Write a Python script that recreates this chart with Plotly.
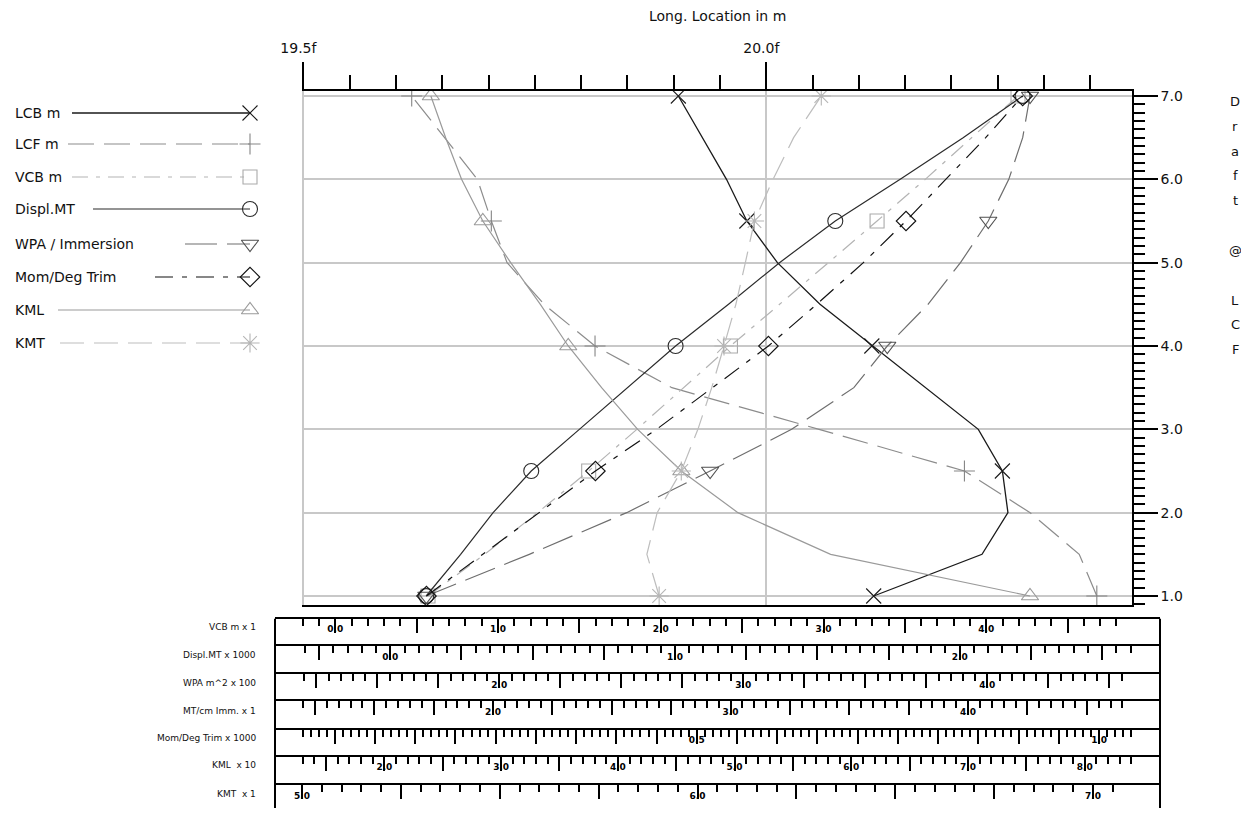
import numpy as np
import plotly.graph_objects as go

# screen is 1249x816; the page body adds an 8px margin on every side,
# so the figure is sized to fit inside it without any scrolling
SCREEN_W, SCREEN_H = 1249, 816
OFF = 8
W, H = SCREEN_W - 2 * OFF, SCREEN_H - 2 * OFF

# ---------------- data ----------------
draft = [1.0, 1.5, 2.0, 2.5, 3.0, 3.5, 4.0, 4.5, 5.0, 5.5, 6.0, 6.5, 7.0]
lcb_m = [20.116, 20.233, 20.261, 20.255, 20.229, 20.172, 20.114, 20.058, 20.012, 19.979, 19.957, 19.931, 19.905]
lcf_m = [20.357, 20.338, 20.285, 20.214, 20.057, 19.898, 19.815, 19.760, 19.720, 19.703, 19.688, 19.652, 19.617]
vcb_m = [0.570, 0.918, 1.243, 1.557, 1.853, 2.143, 2.428, 2.730, 3.032, 3.329, 3.625, 3.910, 4.195]
displ_kt = [0.126, 0.247, 0.361, 0.495, 0.664, 0.833, 1.002, 1.188, 1.367, 1.563, 1.791, 2.012, 2.221]
wpa_100m2 = [1.701, 2.123, 2.522, 2.864, 3.198, 3.453, 3.590, 3.757, 3.890, 4.004, 4.088, 4.145, 4.175]
mom_trim_k = [0.164, 0.234, 0.304, 0.374, 0.450, 0.520, 0.589, 0.649, 0.707, 0.760, 0.810, 0.859, 0.905]
kml_10m = [7.531, 5.823, 5.029, 4.544, 4.170, 3.861, 3.575, 3.336, 3.082, 2.843, 2.661, 2.525, 2.398]
kmt_m = [5.903, 5.872, 5.898, 5.959, 6.001, 6.036, 6.067, 6.097, 6.121, 6.144, 6.191, 6.243, 6.313]

long_ticks = [19.5, 20.0]
long_ticktext = ["19.5f", "20.0f"]
draft_ticks = [1, 2, 3, 4, 5, 6, 7]

scale_names = ["VCB m x 1", "Displ.MT x 1000", "WPA m^2 x 100", "MT/cm Imm. x 1",
               "Mom/Deg Trim x 1000", "KML  x 10", "KMT  x 1"]
scale_ranges = [(-0.2043, 4.8953), (-0.3102, 2.6052), (1.1914, 4.5930), (1.1958, 4.6905),
                (0.00932, 1.04089), (1.294, 8.405), (5.0, 7.0986)]
scale_minor = [0.1, 0.05, 0.05, 0.05, 0.01, 0.1, 0.05]
scale_major = [0.5, 0.25, 0.25, 0.25, 0.05, 0.5, 0.25]
scale_labels = [[0, 1, 2, 3, 4], [0, 1, 2], [2, 3, 4], [2, 3, 4], [0.5, 1.0],
                [2, 3, 4, 5, 6, 7, 8], [5, 6, 7]]

# ---------------- layout geometry (screen pixels) ----------------
MAIN_L, MAIN_R, MAIN_T, MAIN_B = 302, 1132, 91, 605
BOX_L, BOX_R = 275, 1160
ROW_TOPS = [618.7, 646.3, 674.3, 701.3, 729.7, 757.0, 785.3]
ROW_LABEL_Y = [627, 655, 683, 711, 738, 765, 794]

FONT = "DejaVu Sans"


def fx(p):
    return (p - OFF) / W


def fy(p):
    return 1 - (p - OFF) / H


def steps(lo, hi, step):
    k0 = int(np.ceil(lo / step - 1e-6))
    k1 = int(np.floor(hi / step + 1e-6))
    return [round(k * step, 4) for k in range(k0, k1 + 1)]


fig = go.Figure()

# (name, values, axis, line color, marker color, dash, width, symbol, marker size)
series = [
    ("LCB m", lcb_m, "x", "#1a1a1a", "#1a1a1a", "solid", 1.3, "x-thin-open", 15),
    ("LCF m", lcf_m, "x", "#8c8c8c", "#858585", "26px,10px", 1.2, "cross-thin-open", 15),
    ("VCB m", vcb_m, "x2", "#b4b4b4", "#aaaaaa", "16px,8px,4px,8px", 1.2, "square-open", 14),
    ("Displ.MT", displ_kt, "x3", "#2b2b2b", "#2b2b2b", "solid", 1.2, "circle-open", 15),
    ("WPA / Immersion", wpa_100m2, "x4", "#6e6e6e", "#505050", "32px,10px", 1.2, "triangle-down-open", 15),
    ("Mom/Deg Trim", mom_trim_k, "x5", "#111111", "#111111", "18px,9px,5px,9px", 1.2, "diamond-open", 15),
    ("KML", kml_10m, "x6", "#9a9a9a", "#9a9a9a", "solid", 1.2, "triangle-up-open", 15),
    ("KMT", kmt_m, "x7", "#bdbdbd", "#b5b5b5", "24px,10px", 1.2, "asterisk-open", 16),
]

for name, vals, ax, col, mcol, dash, lw, sym, ms in series:
    fig.add_trace(go.Scatter(x=vals, y=draft, xaxis=ax, yaxis="y", mode="lines",
                             line=dict(color=col, width=lw, dash=dash),
                             showlegend=False, hoverinfo="skip"))
    fig.add_trace(go.Scatter(x=vals[::3], y=draft[::3], xaxis=ax, yaxis="y", mode="markers",
                             marker=dict(symbol=sym, size=ms, color=mcol,
                                         line=dict(color=mcol, width=1.1)),
                             showlegend=False, hoverinfo="skip"))

# ---------------- custom legend (left) ----------------
legend_y = [113, 144, 177, 209, 244, 277, 310, 343]
legend_x0 = [72, 68, 72, 93, 185, 155, 58, 60]
LEG_MX = 250
annotations = []
for (name, vals, ax, col, mcol, dash, lw, sym, ms), ly, lx0 in zip(series, legend_y, legend_x0):
    fig.add_trace(go.Scatter(x=[lx0, LEG_MX], y=[ly, ly], xaxis="x15", yaxis="y9", mode="lines",
                             line=dict(color=col, width=lw, dash=dash),
                             showlegend=False, hoverinfo="skip"))
    fig.add_trace(go.Scatter(x=[LEG_MX], y=[ly], xaxis="x15", yaxis="y9", mode="markers",
                             marker=dict(symbol=sym, size=ms, color=mcol,
                                         line=dict(color=mcol, width=1.1)),
                             showlegend=False, hoverinfo="skip"))
    annotations.append(dict(text=name, x=13, y=ly, xref="x15", yref="y9", xanchor="left",
                            yanchor="middle", showarrow=False,
                            font=dict(family=FONT, size=14, color="#111")))

layout = dict(
    width=W, height=H,
    margin=dict(l=0, r=0, t=0, b=0, pad=0, autoexpand=False),
    paper_bgcolor="white", plot_bgcolor="white",
    showlegend=False,
    font=dict(family=FONT, size=14, color="#111"),
)

# main x axis (top)
main_minor = [v for v in steps(19.5, 20.395, 0.05) if v not in long_ticks]
layout["xaxis"] = dict(
    domain=[fx(MAIN_L), fx(MAIN_R)], range=[19.4985, 20.395], anchor="y", side="top",
    showline=True, linecolor="black", linewidth=1.5, mirror=True,
    ticks="outside", tickmode="array", tickvals=long_ticks, ticktext=long_ticktext,
    ticklen=27, tickwidth=1.5, tickcolor="black", ticklabelstandoff=4, ticklabelshift=-5,
    tickfont=dict(family=FONT, size=14, color="#111"),
    minor=dict(tickmode="array", tickvals=main_minor, ticks="outside", ticklen=14,
               tickwidth=1.5, tickcolor="black"),
    showgrid=True, gridcolor="#c8c8c8", gridwidth=2, zeroline=False, fixedrange=True,
    automargin=False,
)

# main y axis (right, draft)
draft_minor = [v for v in steps(0.892, 7.06, 0.1) if abs(v - round(v)) > 1e-6]
layout["yaxis"] = dict(
    domain=[fy(MAIN_B), fy(MAIN_T)], range=[0.892, 7.06], anchor="x", side="right",
    showline=True, linecolor="black", linewidth=1.5,
    ticks="outside", tickmode="array", tickvals=draft_ticks,
    ticktext=[f"{v:.1f}" for v in draft_ticks], ticklen=24, tickwidth=1.5, tickcolor="black",
    tickfont=dict(family=FONT, size=14, color="#111"),
    minor=dict(tickmode="array", tickvals=draft_minor, ticks="outside", ticklen=11,
               tickwidth=1.5, tickcolor="black"),
    showgrid=True, gridcolor="#c8c8c8", gridwidth=2, zeroline=False, fixedrange=True,
    automargin=False,
)

# overlay axes giving each quantity its own scale over the main plot area
overlay_scale = {"x2": 0, "x3": 1, "x4": 2, "x5": 4, "x6": 5, "x7": 6}
for axname, si in overlay_scale.items():
    lo, hi = scale_ranges[si]
    layout["xaxis" + axname[1:]] = dict(
        domain=[fx(MAIN_L), fx(MAIN_R)], range=[lo, hi], overlaying="x", anchor="y",
        visible=False, fixedrange=True)

# bottom scale rows
row_bottoms = ROW_TOPS[1:] + [SCREEN_H + 30]
for i in range(7):
    lo, hi = scale_ranges[i]
    slope = (hi - lo) / (MAIN_R - MAIN_L)
    r0 = lo + slope * (BOX_L - MAIN_L)
    r1 = lo + slope * (BOX_R - MAIN_L)
    majors = steps(lo, hi, scale_major[i])
    minors = [v for v in steps(lo, hi, scale_minor[i])
              if all(abs(v - m) > 1e-6 for m in majors)]
    texts = [f"{v:.1f}" if any(abs(v - l) < 1e-6 for l in scale_labels[i]) else ""
             for v in majors]
    xa = 8 + i
    ya = 2 + i
    layout[f"xaxis{xa}"] = dict(
        domain=[fx(BOX_L), fx(BOX_R)], range=[r0, r1], anchor=f"y{ya}", side="top",
        showline=True, linecolor="black", linewidth=2,
        ticks="inside", tickmode="array", tickvals=majors, ticktext=texts,
        ticklen=14, tickwidth=1.5, tickcolor="black",
        ticklabelposition="inside", ticklabelstandoff=-8,
        tickfont=dict(family=FONT, size=9, color="#000", weight="bold"),
        minor=dict(tickmode="array", tickvals=minors, ticks="inside", ticklen=7,
                   tickwidth=1.5, tickcolor="black"),
        showgrid=False, zeroline=False, fixedrange=True, automargin=False)
    layout[f"yaxis{ya}"] = dict(
        domain=[max(0, fy(row_bottoms[i])), fy(ROW_TOPS[i])], range=[0, 1],
        anchor=f"x{xa}", visible=False, fixedrange=True)
    fig.add_trace(go.Scatter(x=[None], y=[None], xaxis=f"x{xa}", yaxis=f"y{ya}",
                             showlegend=False, hoverinfo="skip"))
    annotations.append(dict(text=scale_names[i], x=fx(258), y=fy(ROW_LABEL_Y[i]),
                            xref="paper", yref="paper", xanchor="right", yanchor="middle",
                            showarrow=False, font=dict(family=FONT, size=9, color="#111")))

# legend axes (values are screen pixels)
layout["xaxis15"] = dict(domain=[0, fx(270)], range=[OFF, 270], anchor="y9",
                         visible=False, fixedrange=True)
layout["yaxis9"] = dict(domain=[0, 1], range=[SCREEN_H - OFF, OFF], anchor="x15",
                        visible=False, fixedrange=True)

# titles
annotations.append(dict(text="Long. Location in m", x=fx(717), y=fy(16), xref="paper",
                        yref="paper", xanchor="center", yanchor="middle", showarrow=False,
                        font=dict(family=FONT, size=14, color="#111")))
for ch, yy in zip(["D", "r", "a", "f", "t", "@", "L", "C", "F"],
                  [102, 127, 152, 176, 200, 250, 300, 324, 349]):
    annotations.append(dict(text=ch, x=fx(1235), y=fy(yy), xref="paper", yref="paper",
                            xanchor="center", yanchor="middle", showarrow=False,
                            font=dict(family=FONT, size=13, color="#111")))

layout["annotations"] = annotations
layout["shapes"] = [
    dict(type="line", xref="paper", yref="paper", x0=fx(BOX_L), x1=fx(BOX_L),
         y0=0, y1=fy(ROW_TOPS[0]), line=dict(color="black", width=2)),
    dict(type="line", xref="paper", yref="paper", x0=fx(BOX_R), x1=fx(BOX_R),
         y0=0, y1=fy(ROW_TOPS[0]), line=dict(color="black", width=2)),
]

fig.update_layout(**layout)
fig.write_html("out.html")
